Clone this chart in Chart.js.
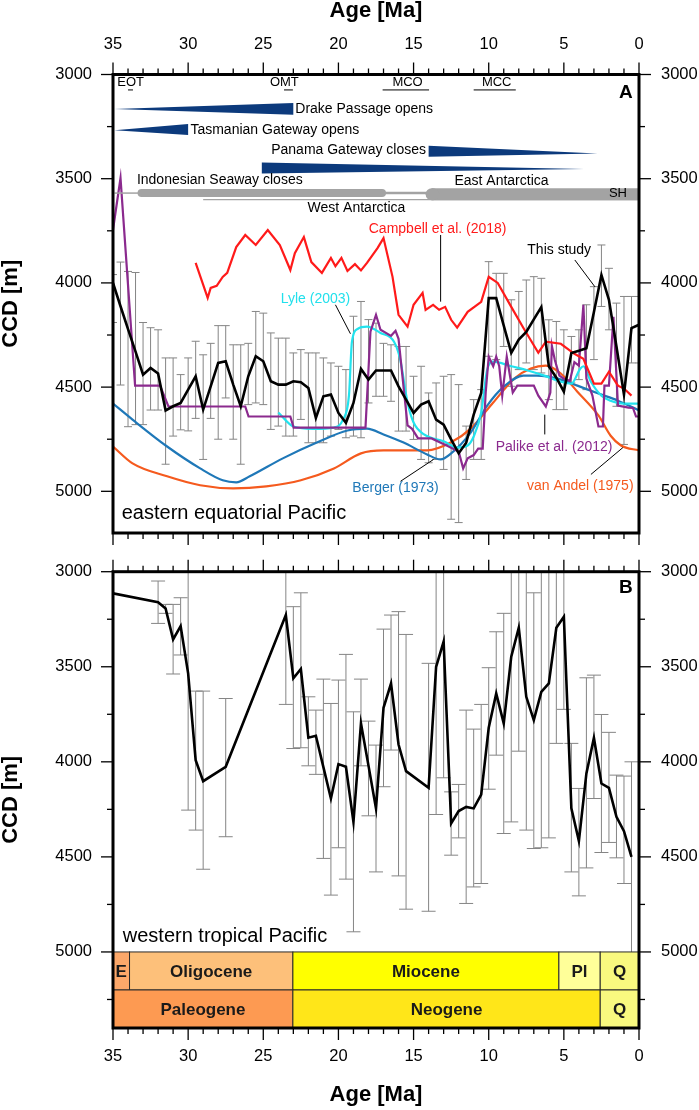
<!DOCTYPE html>
<html>
<head>
<meta charset="utf-8">
<script src="https://cdn.jsdelivr.net/npm/chart.js@4.4.1/dist/chart.umd.min.js"></script>
<style>
  html, body { margin: 0; padding: 0; background: #fff; }
  #contenedor { position: relative; width: 699px; height: 1110px; }
  #graficaA { position: absolute; left: 0; top: 0; }
  #graficaB { position: absolute; left: 0; top: 550px; }
</style>
</head>
<body>
<div id="contenedor">
  <canvas id="graficaA" width="699" height="550"></canvas>
  <canvas id="graficaB" width="699" height="560"></canvas>
</div>
<script>
// ---------- ejes ----------
const etiquetasEdad = [35, 30, 25, 20, 15, 10, 5, 0];
const etiquetasCcdA = [3000, 3500, 4000, 4500, 5000];
const etiquetasCcdB = [3000, 3500, 4000, 4500, 5000];

// ---------- panel A: este del Pacifico ecuatorial ----------
const edadesA = [35,34.5,34,33.5,33,32.5,32,31.5,31,30.5,30,29.5,29,28.5,28,27.5,27,26.5,26,25.5,25,24.5,24,23.5,23,22.5,22,21.5,21,20.5,20,19.5,19,18.5,18,17.5,17,16.5,16,15.5,15,14.5,14,13.5,13,12.5,12,11.5,11,10.5,10,9.5,9,8.5,8,7.5,7,6.5,6,5.5,5,4.5,4,3.5,3,2.5,2,1.5,1,0.5,0];
const ccdEstudioA = [4000,4112,4222,4330,4440,4408,4435,4612,4592,4576,
  4512,4448,4608,4496,4384,4376,4488,4592,4448,4352,
  4376,4472,4488,4488,4472,4477,4504,4648,4544,4536,
  4624,4671,4576,4413,4464,4420,4420,4420,4496,4560,
  4624,4584,4568,4656,4680,4751,4818,4767,4632,4528,
  4073,4073,4205,4336,4272,4235,4175,4116,4400,4455,
  4522,4336,4325,4313,4140,3962,4081,4305,4536,4217,
  4201];
const ccdMinA = [3960,3900,3945,3950,4190,4215,4225,4360,4360,4440,
  4360,4280,4345,4290,4205,4205,4297,4297,4290,4137,
  4145,4240,4265,4265,4336,4320,4336,4336,4360,4384,
  4400,4416,4160,4089,4176,4193,4290,4297,4305,4305,
  4448,4400,4528,4480,4448,4440,4488,4687,4560,4512,
  3898,3954,3954,4081,4041,3986,3970,3978,4177,4185,
  4225,4257,4225,4105,4018,3818,3930,4097,4065,4065,
  4065];
const ccdMaxA = [4190,4490,4690,4680,4680,4610,4610,4870,4735,4705,
  4710,4650,4847,4650,4750,4552,4750,4870,4584,4576,
  4584,4703,4687,4735,4735,4655,4767,4767,4767,4735,
  4703,4743,4735,4743,4576,4544,4544,4568,4711,4711,
  4751,4847,4863,4847,4895,5134,5150,4943,4847,4847,
  4352,4368,4305,4496,4416,4384,4416,4432,4560,4608,
  4608,4480,4464,4512,4368,4113,4225,4592,4775,4384,
  4384];

const edadesCampbell = [29.5,28.7,28.5,28.1,27.7,27.4,26.8,26.2,25.5,24.7,23.9,23.2,22.9,22.3,21.8,21.1,20.5,20.2,19.8,19.4,18.9,18.5,18.1,17.4,17.0,16.4,16.0,15.4,15.0,14.4,14.2,13.7,13.3,12.9,12.5,12.1,11.4,10.5,10.0,9.4,8.5,7.7,6.7,6.2,5.2,4.3,3.7,3.0,2.5,2.0,1.4,1.0,0.5];
const ccdCampbell = [3904,4072,4024,4014,3971,3952,3828,3770,3818,3746,3818,3938,3857,3780,3900,3952,3880,3920,3880,3943,3910,3940,3904,3833,3785,3971,4153,4210,4105,4048,4129,4105,4129,4115,4177,4215,4139,4091,3971,4000,4115,4215,4335,4282,4292,4340,4364,4483,4483,4426,4493,4507,4541];

const edadesPalike = [35,34.5,33.53,31.87,31.31,26.2,25.98,23.2,22.98,18.2,17.87,17.5,17.2,16.5,16.2,16.0,15.4,15.1,14.7,13.8,12.8,12.0,11.7,11.4,11.0,10.7,10.4,10.2,10.0,9.7,9.5,9.3,9.1,8.8,8.4,8.1,7.0,6.7,6.2,5.9,5.8,5.6,5.3,5.0,4.6,4.3,4.0,3.7,3.5,3.1,2.7,2.4,2.3,2.0,1.7,1.4,0.7,0.4,0.2,0];
const ccdPalike = [3745,3497,4493,4493,4593,4593,4641,4641,4694,4694,4234,4153,4225,4254,4230,4268,4684,4700,4746,4746,4780,4809,4890,4842,4826,4795,4795,4526,4354,4400,4354,4400,4541,4354,4526,4493,4493,4541,4593,4526,4301,4370,4445,4460,4470,4380,4397,4105,4459,4541,4689,4689,4493,4493,4163,4589,4598,4600,4641,4641];

const edadesLyle = [24.0,23.0,21.7,20.3,19.7,19.3,19.1,18.7,18.1,17.2,16.3,15.9,15.4,15.0,14.3,13.0,12.1,11.4,11.0,10.5,10.1,9.7,8.5,7.4,6.3,5.2,4.5,3.9,3.7,3.2,2.5,1.9,1.0,0];
const ccdLyle = [4622,4689,4700,4694,4656,4541,4282,4220,4210,4240,4282,4364,4574,4670,4727,4760,4790,4780,4737,4622,4416,4378,4400,4420,4445,4474,4483,4411,4400,4474,4541,4565,4579,4579];

const edadesBerger = [35,33.7,31.4,29.2,27.7,26.8,25.9,23.7,21.4,19.4,18.1,17.0,15.7,14.1,13.2,12.5,11.2,10.1,9.0,7.7,6.8,5.4,4.1,2.7,1.4,0];
const ccdBerger = [4579,4656,4785,4890,4947,4957,4928,4842,4765,4708,4699,4727,4765,4823,4847,4818,4718,4589,4498,4445,4445,4459,4493,4531,4565,4612];

const edadesVanAndel = [35,33.7,31.4,29.2,27.0,24.8,22.5,20.3,18.5,17.0,14.1,12.5,11.2,9.7,8.3,7.2,6.2,5.2,4.1,2.7,1.9,1.2,0];
const ccdVanAndel = [4785,4866,4928,4971,4986,4976,4947,4890,4818,4804,4804,4765,4699,4574,4459,4411,4397,4435,4522,4636,4732,4780,4804];

// ---------- panel B: oeste del Pacifico tropical ----------
const edadesB = [35,32,31.5,31,30.5,30,29.5,29,27.5,23.5,23,22.5,22,21.5,21,20.5,20,19.5,19,18.5,18,17.5,17,16.5,16,15.5,14,13.5,13,12.5,12,11.5,11,10.5,10,9.5,9,8.5,8,7.5,7,6.5,6,5.5,5,4.5,4,3.5,3,2.5,2,1.5,1,0.5];
const ccdB = [3114,3161,3193,3356,3286,3535,3991,4102,4026,3228,3561,3512,3873,3863,4028,4193,4012,4026,4316,3798,4020,4245,3716,3588,3909,4049,4137,3500,3368,4324,4259,4237,4245,4172,3821,3640,3798,3447,3295,3658,3781,3632,3588,3295,3237,4245,4417,4061,3874,4114,4137,4289,4365,4500];
const ccdMinB = [null,3049,3172,3172,3137,2947,3628,3628,3667,2950,3184,3111,3658,3728,3565,3693,3570,3435,3737,3565,3786,3912,3302,3228,3210,3330,3482,2900,2900,4158,4119,3728,3828,3698,3505,3316,3219,2900,2900,2900,3111,2900,2900,2900,2900,3903,4140,3558,3544,3751,3845,4070,4075,4000];
const ccdMaxB = [null,3272,3219,3538,3438,4254,4359,4565,4394,3698,3930,3926,4021,4066,4508,4701,4452,4617,4894,4021,4284,4579,4131,3938,4600,4775,4786,4277,4084,4491,4400,4745,4658,4640,4144,3965,4377,4316,3944,4359,4456,4452,4400,3903,3724,4579,4705,4558,4193,4477,4424,4505,4640,5010];

// ---------- escala de tiempo geologico ----------
const epocas = ['E', 'Oligocene', 'Miocene', 'Pl', 'Q'];
const epocaInicio = [35, 33.9, 23.03, 5.33, 2.58];
const epocaFin = [33.9, 23.03, 5.33, 2.58, 0];
const periodos = ['Paleogene', 'Neogene', 'Q'];
const periodoInicio = [35, 23.03, 2.58];
const periodoFin = [23.03, 2.58, 0];

// estilos
const coloresEpoca = ['#fca86a', '#fdc07a', '#ffff00', '#ffff99', '#f9f97f'];
const coloresPeriodo = ['#fd9a52', '#ffe619', '#f9f97f'];
const FAM = "'Liberation Sans', Arial, Helvetica, sans-serif";
const fuenteTicks = { family: FAM, size: 16.5 };
const fuenteTitulo = { family: FAM, size: 22, weight: 'bold', lineHeight: 1 };

function puntos(xs, ys) { return xs.map((e, i) => ({ x: e, y: ys[i] })); }

function linea(ctx, x1, y1, x2, y2) {
    ctx.beginPath(); ctx.moveTo(x1, y1); ctx.lineTo(x2, y2); ctx.stroke();
}

function texto(ctx, s, px, py, align, font, color) {
    ctx.font = font; ctx.fillStyle = color; ctx.textAlign = align; ctx.textBaseline = 'middle';
    ctx.fillText(s, px, py);
}

// sin relleno extra para que el area del grafico quede donde queremos
function sinRelleno(s) { s.paddingTop = 0; s.paddingBottom = 0; s.paddingLeft = 0; s.paddingRight = 0; }

function escalas(cfg) {
    const comun = { type: 'linear', grid: { display: false, drawTicks: false }, border: { display: false } };
    const etiqueta = v => String(v);
    return {
        x: { ...comun, position: 'bottom', min: 0, max: 35, reverse: true,
            afterBuildTicks: s => { s.ticks = etiquetasEdad.map(v => ({ value: v })); },
            afterFit: s => { s.height = cfg.altoAbajo; sinRelleno(s); },
            ticks: { display: cfg.etiquetasAbajo, color: '#000', font: fuenteTicks, padding: 19, autoSkip: false, maxRotation: 0, callback: etiqueta },
            title: { display: cfg.etiquetasAbajo, text: 'Age [Ma]', color: '#000', font: fuenteTitulo, padding: { top: 0, bottom: 4 } } },
        xArriba: { ...comun, position: 'top', min: 0, max: 35, reverse: true,
            afterBuildTicks: s => { s.ticks = etiquetasEdad.map(v => ({ value: v })); },
            afterFit: s => { s.height = cfg.altoArriba; sinRelleno(s); },
            ticks: { display: cfg.etiquetasArriba, color: '#000', font: fuenteTicks, padding: 20, autoSkip: false, maxRotation: 0, callback: etiqueta },
            title: { display: cfg.etiquetasArriba, text: 'Age [Ma]', color: '#000', font: fuenteTitulo, padding: { top: 0, bottom: 0 } } },
        y: { ...comun, position: 'left', min: cfg.yMin, max: cfg.yMax, reverse: true,
            afterBuildTicks: s => { s.ticks = cfg.yEtiquetas.map(v => ({ value: v })); },
            afterFit: s => { s.width = 113; sinRelleno(s); },
            ticks: { color: '#000', font: fuenteTicks, padding: 21, callback: etiqueta },
            title: { display: true, text: 'CCD [m]', color: '#000', font: fuenteTitulo, padding: { top: 0, bottom: 0 } } },
        yDerecha: { ...comun, position: 'right', min: cfg.yMin, max: cfg.yMax, reverse: true,
            afterBuildTicks: s => { s.ticks = cfg.yEtiquetas.map(v => ({ value: v })); },
            afterFit: s => { s.width = 60; sinRelleno(s); },
            ticks: { color: '#000', font: fuenteTicks, padding: 22, callback: etiqueta } }
    };
}

// marco grueso y marcas hacia afuera
function pluginMarco(marcasY, yMayor) {
    return {
        id: 'marco',
        afterDraw(chart) {
            const { ctx, chartArea: a, scales: { x, y } } = chart;
            ctx.save();
            ctx.strokeStyle = '#000';
            ctx.lineWidth = 1.3;
            for (let v = 0; v <= 35; v++) {
                const px = x.getPixelForValue(v);
                const l = v % 5 === 0 ? 12 : 6;
                linea(ctx, px, a.top, px, a.top - l);
                linea(ctx, px, a.bottom, px, a.bottom + l);
            }
            for (const v of marcasY) {
                const py = y.getPixelForValue(v);
                const l = v % yMayor === 0 ? 12 : 6;
                linea(ctx, a.left, py, a.left - l, py);
                linea(ctx, a.right, py, a.right + l, py);
            }
            ctx.lineWidth = 3;
            ctx.strokeRect(a.left, a.top, a.right - a.left, a.bottom - a.top);
            ctx.restore();
        }
    };
}

function pluginBarras(edades, mins, maxs, semi) {
    return {
        id: 'barras',
        beforeDatasetsDraw(chart) {
            const { ctx, chartArea: a, scales: { x, y } } = chart;
            ctx.save();
            ctx.beginPath(); ctx.rect(a.left, a.top, a.right - a.left, a.bottom - a.top); ctx.clip();
            ctx.strokeStyle = '#858585';
            ctx.lineWidth = 1;
            edades.forEach((e, i) => {
                if (mins[i] == null) return;
                const px = x.getPixelForValue(e);
                const y1 = y.getPixelForValue(mins[i]), y2 = y.getPixelForValue(maxs[i]);
                linea(ctx, px, y1, px, y2);
                linea(ctx, px - semi, y1, px + semi, y1);
                linea(ctx, px - semi, y2, px + semi, y2);
            });
            ctx.restore();
        }
    };
}

// anotaciones del panel A (coordenadas en Ma / m)
const cunas = [
    [[34.9, 3165], [23.0, 3137], [23.0, 3193]],
    [[34.9, 3267], [30.0, 3238], [30.0, 3290]],
    [[14.0, 3342], [14.0, 3395], [2.77, 3379]],
    [[25.1, 3422], [25.1, 3475], [3.66, 3454]]
];
const eventos = [
    { t: 'EOT', e: 33.83, raya: [34.0, 33.67] },
    { t: 'OMT', e: 23.6, raya: [23.62, 23.03] },
    { t: 'MCO', e: 15.4, raya: [17.06, 13.97] },
    { t: 'MCC', e: 9.47, raya: [11.0, 8.2] }
];
const rotulosA = [
    { t: 'Drake Passage opens', e: 22.87, d: 3165, a: 'left', c: '#000' },
    { t: 'Tasmanian Gateway opens', e: 29.85, d: 3265, a: 'left', c: '#000' },
    { t: 'Panama Gateway closes', e: 14.17, d: 3365, a: 'right', c: '#000' },
    { t: 'Indonesian Seaway closes', e: 33.41, d: 3506, a: 'left', c: '#000' },
    { t: 'East Antarctica', e: 9.15, d: 3514, a: 'center', c: '#000' },
    { t: 'West Antarctica', e: 18.8, d: 3641, a: 'center', c: '#000' },
    { t: 'Campbell et al. (2018)', e: 13.4, d: 3742, a: 'center', c: '#ff1a1a' },
    { t: 'This study', e: 5.31, d: 3845, a: 'center', c: '#000' },
    { t: 'Lyle (2003)', e: 21.53, d: 4076, a: 'center', c: '#22e0ec' },
    { t: 'Berger (1973)', e: 16.2, d: 4986, a: 'center', c: '#1f78b8' },
    { t: 'Palike et al. (2012)', e: 5.65, d: 4790, a: 'center', c: '#8b2a8e' },
    { t: 'van Andel (1975)', e: 3.91, d: 4977, a: 'center', c: '#f55a1e' }
];
const guias = [
    [[13.2, 3770], [13.2, 4090]],
    [[4.27, 3890], [2.93, 4019]],
    [[20.2, 4105], [19.2, 4244]],
    [[15.87, 4952], [13.67, 4847]],
    [[6.27, 4632], [6.27, 4727]],
    [[3.2, 4919], [1.07, 4790]]
];

const anotacionesA = {
    id: 'anotacionesA',
    afterDatasetsDraw(chart) {
        const { ctx, scales: { x, y } } = chart;
        const X = v => x.getPixelForValue(v), Y = v => y.getPixelForValue(v);
        ctx.save();
        // cunas azules
        ctx.fillStyle = '#0c3a7c';
        cunas.forEach(c => {
            ctx.beginPath();
            c.forEach(([e, d], i) => i ? ctx.lineTo(X(e), Y(d)) : ctx.moveTo(X(e), Y(d)));
            ctx.closePath(); ctx.fill();
        });
        // barras grises
        ctx.strokeStyle = '#a3a3a3';
        ctx.lineCap = 'butt';
        ctx.lineWidth = 1.2; linea(ctx, X(29.0), Y(3600), X(0), Y(3600));
        ctx.lineWidth = 1.5; linea(ctx, X(34.9), Y(3569), X(33.3), Y(3569));
        ctx.lineWidth = 2.5; linea(ctx, X(17.0), Y(3569), X(14.0), Y(3569));
        ctx.lineCap = 'round';
        ctx.lineWidth = 8; linea(ctx, X(33.1), Y(3569), X(17.1), Y(3569));
        ctx.lineCap = 'butt';
        ctx.lineWidth = 12; linea(ctx, X(13.8), Y(3575), X(0), Y(3575));
        ctx.lineCap = 'round'; linea(ctx, X(13.8), Y(3575), X(13.7), Y(3575));
        ctx.lineCap = 'butt';
        // lineas guia
        ctx.strokeStyle = '#000'; ctx.lineWidth = 1;
        guias.forEach(([p, q]) => linea(ctx, X(p[0]), Y(p[1]), X(q[0]), Y(q[1])));
        // eventos
        const f13 = '13px ' + FAM;
        eventos.forEach(ev => {
            texto(ctx, ev.t, X(ev.e), Y(3040), 'center', f13, '#000');
            linea(ctx, X(ev.raya[0]), Y(3074), X(ev.raya[1]), Y(3074));
        });
        const f14 = '14px ' + FAM;
        rotulosA.forEach(r => texto(ctx, r.t, X(r.e), Y(r.d), r.a, f14, r.c));
        texto(ctx, 'SH', X(0.8), Y(3573), 'right', '13px ' + FAM, '#000');
        texto(ctx, 'eastern equatorial Pacific', X(34.42), Y(5106), 'left', '20px ' + FAM, '#000');
        texto(ctx, 'A', X(0.87), Y(3089), 'center', 'bold 19px ' + FAM, '#000');
        ctx.restore();
    }
};

const escalaTiempo = {
    id: 'escalaTiempo',
    afterDatasetsDraw(chart) {
        const { ctx, scales: { x, y } } = chart;
        const X = v => x.getPixelForValue(v), Y = v => y.getPixelForValue(v);
        ctx.save();
        ctx.strokeStyle = '#2a2a2a'; ctx.lineWidth = 1;
        const fila = (nombres, ini, fin, colores, d1, d2) => {
            nombres.forEach((n, i) => {
                const x1 = X(ini[i]), x2 = X(fin[i]), y1 = Y(d1), y2 = Y(d2);
                ctx.fillStyle = colores[i];
                ctx.fillRect(x1, y1, x2 - x1, y2 - y1);
                ctx.strokeRect(x1, y1, x2 - x1, y2 - y1);
                texto(ctx, n, (x1 + x2) / 2, (y1 + y2) / 2 + 1, 'center', 'bold 17px ' + FAM, '#1a1a1a');
            });
        };
        fila(epocas, epocaInicio, epocaFin, coloresEpoca, 5000, 5200);
        fila(periodos, periodoInicio, periodoFin, coloresPeriodo, 5200, 5400);
        texto(ctx, 'western tropical Pacific', X(34.35), Y(4921), 'left', '20px ' + FAM, '#000');
        texto(ctx, 'B', X(0.87), Y(3087), 'center', 'bold 19px ' + FAM, '#000');
        ctx.restore();
    }
};

function serie(xs, ys, color, ancho, suave) {
    return {
        data: puntos(xs, ys), borderColor: color, borderWidth: ancho, pointRadius: 0,
        fill: false, tension: suave ? 0.4 : 0, cubicInterpolationMode: suave ? 'monotone' : 'default',
        xAxisID: 'x', yAxisID: 'y'
    };
}

const opcionesBase = {
    responsive: false, animation: false, events: [],
    layout: { padding: 0 },
    plugins: { legend: { display: false }, tooltip: { enabled: false } }
};

new Chart(document.getElementById('graficaA'), {
    type: 'line',
    data: {
        datasets: [
            serie(edadesA, ccdEstudioA, '#000000', 2.6, false),
            serie(edadesCampbell, ccdCampbell, '#ff1a1a', 2.2, false),
            serie(edadesPalike, ccdPalike, '#8b2a8e', 2.2, false),
            serie(edadesLyle, ccdLyle, '#22e3ee', 2.2, true),
            serie(edadesBerger, ccdBerger, '#1f78b8', 2.2, true),
            serie(edadesVanAndel, ccdVanAndel, '#f55a1e', 2.2, true)
        ]
    },
    options: {
        ...opcionesBase,
        scales: escalas({ yMin: 3000, yMax: 5200, yEtiquetas: etiquetasCcdA, altoArriba: 74.5, altoAbajo: 17,
            etiquetasArriba: true, etiquetasAbajo: false })
    },
    plugins: [pluginBarras(edadesA, ccdMinA, ccdMaxA, 4), anotacionesA,
        pluginMarco([3000,3250,3500,3750,4000,4250,4500,4750,5000], 500)]
});

new Chart(document.getElementById('graficaB'), {
    type: 'line',
    data: { datasets: [serie(edadesB, ccdB, '#000000', 2.6, false)] },
    options: {
        ...opcionesBase,
        scales: escalas({ yMin: 3000, yMax: 5400, yEtiquetas: etiquetasCcdB, altoArriba: 21.7, altoAbajo: 82,
            etiquetasArriba: false, etiquetasAbajo: true })
    },
    plugins: [pluginBarras(edadesB, ccdMinB, ccdMaxB, 7), escalaTiempo,
        pluginMarco([3000,3250,3500,3750,4000,4250,4500,4750,5000,5250], 500)]
});
</script>
</body>
</html>
